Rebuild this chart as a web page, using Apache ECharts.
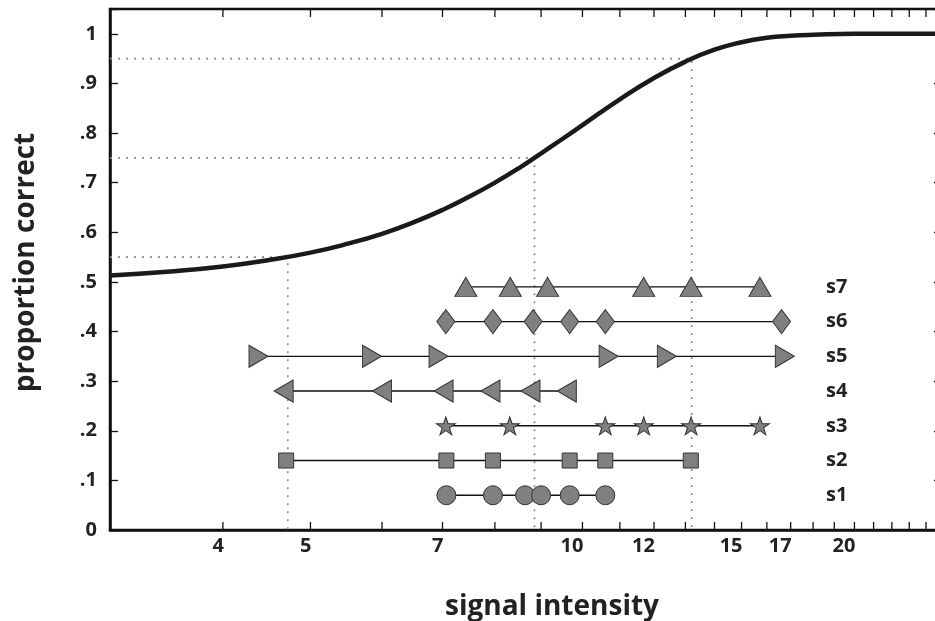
<!DOCTYPE html>
<html>
<head>
<meta charset="utf-8">
<script src="https://cdn.jsdelivr.net/npm/echarts@6/dist/echarts.min.js"></script>
<style>html,body{margin:0;padding:0;background:#fff}#c{width:935px;height:621px}</style>
</head>
<body>
<div id="c"></div>
<script>
// ---- data ----
const curveX = [3, 3.5, 4, 4.5, 5, 5.5, 6, 6.5, 7, 7.5, 8, 8.5, 9, 9.5, 10, 11, 12, 13, 14, 15, 16, 17, 18, 20, 22, 25];
const curveP = [0.513, 0.521, 0.531, 0.544, 0.559, 0.577, 0.597, 0.620, 0.645, 0.672, 0.700, 0.729, 0.759, 0.788, 0.816, 0.868, 0.911, 0.944, 0.968, 0.983, 0.992, 0.996, 0.998, 1.0, 1.0, 1.0];
const thresholdP = [0.55, 0.75, 0.95];
const thresholdX = [4.72, 8.85, 13.21];
const seriesNames = ['s1', 's2', 's3', 's4', 's5', 's6', 's7'];
const rowY = [0.07, 0.14, 0.21, 0.28, 0.35, 0.42, 0.49];
const s1 = [7.07, 7.96, 8.64, 9.00, 9.68, 10.6];
const s2 = [4.70, 7.07, 7.96, 9.68, 10.6, 13.18];
const s3 = [7.06, 8.31, 10.6, 11.69, 13.19, 15.72];
const s4 = [4.67, 6.00, 7.02, 7.91, 8.76, 9.61];
const s5 = [4.38, 5.85, 6.93, 10.69, 12.4, 16.75];
const s6 = [7.06, 7.96, 8.82, 9.68, 10.6, 16.61];
const s7 = [7.43, 8.32, 9.15, 11.69, 13.19, 15.72];
const xTicks = [4, 5, 6, 7, 8, 9, 10, 11, 12, 13, 14, 15, 16, 17, 18, 19, 20, 21, 22, 23, 24];
const xTickLabels = [4, 5, 7, 10, 12, 15, 17, 20];
const xMin = 3, xMax = 25, yMin = 0, yMax = 1.05;
const labelX = 18.6;

// ---- styling ----
const FONT = '"Open Sans", "DejaVu Sans", sans-serif';
const STAR = 'path://M10,0 L12.245,6.91 L19.511,6.91 L13.633,11.18 L15.878,18.09 L10,13.82 L4.122,18.09 L6.367,11.18 L0.489,6.91 L7.755,6.91 Z';
const LEFT_TRI = 'path://M10,0 L0,5 L10,10 Z';
const RIGHT_TRI = 'path://M0,0 L10,5 L0,10 Z';
const symbols = [
  {symbol: 'circle', size: 19},
  {symbol: 'rect', size: 15},
  {symbol: STAR, size: [19, 18]},
  {symbol: LEFT_TRI, size: [19, 22]},
  {symbol: RIGHT_TRI, size: [19, 22]},
  {symbol: 'diamond', size: [18, 24]},
  {symbol: 'triangle', size: [22, 19]}
];
const allRows = [s1, s2, s3, s4, s5, s6, s7];

const series = [];
// dotted threshold lines
thresholdP.forEach((p, i) => {
  series.push({
    type: 'line', silent: true, symbol: 'none', z: 2,
    data: [[xMin, p], [thresholdX[i], p], [thresholdX[i], yMin]],
    lineStyle: {color: '#888', width: 1.6, type: [2, 6]}
  });
});
// psychometric curve
series.push({
  type: 'line', silent: true, symbol: 'none', smooth: true, z: 3,
  data: curveX.map((x, i) => [x, curveP[i]]),
  lineStyle: {color: '#1a1a1a', width: 4.5}
});
// data rows
allRows.forEach((row, i) => {
  series.push({
    type: 'line', silent: true, z: 4, showAllSymbol: true,
    symbol: symbols[i].symbol, symbolSize: symbols[i].size,
    data: row.map(x => [x, rowY[i]]),
    lineStyle: {color: '#111', width: 1.4},
    itemStyle: {color: '#808080', borderColor: '#333', borderWidth: 1}
  });
});
// row labels
series.push({
  type: 'custom', coordinateSystem: 'cartesian2d', clip: false, silent: true, z: 6,
  data: seriesNames.map((n, i) => [labelX, rowY[i]]),
  renderItem(params, api) {
    const p = api.coord([api.value(0), api.value(1)]);
    return {type: 'text', style: {text: seriesNames[params.dataIndex], x: p[0], y: p[1], align: 'left', verticalAlign: 'middle', textAlign: 'left', textVerticalAlign: 'middle', font: 'bold 20px ' + FONT, fill: '#222'}};
  }
});
// x ticks & labels (log scale positions)
series.push({
  type: 'custom', coordinateSystem: 'cartesian2d', clip: false, silent: true, z: 7,
  data: xTicks.map(v => [v, yMin]),
  renderItem(params, api) {
    const v = api.value(0);
    const b = api.coord([v, yMin]);
    const t = api.coord([v, yMax]);
    const children = [
      {type: 'line', shape: {x1: b[0], y1: b[1], x2: b[0], y2: b[1] - 8}, style: {stroke: '#111', lineWidth: 1.3}},
      {type: 'line', shape: {x1: t[0], y1: t[1], x2: t[0], y2: t[1] + 8}, style: {stroke: '#111', lineWidth: 1.3}}
    ];
    if (xTickLabels.indexOf(v) >= 0) {
      children.push({type: 'text', style: {text: String(v), x: b[0] + 1, y: b[1] + 16, align: 'right', verticalAlign: 'middle', textAlign: 'right', textVerticalAlign: 'middle', font: 'bold 20px ' + FONT, fill: '#222'}});
    }
    return {type: 'group', children};
  }
});

const option = {
  animation: false,
  backgroundColor: '#fff',
  grid: {left: 110, top: 9, bottom: 91, right: -7, show: true, borderColor: '#111', borderWidth: 2.5, outerBoundsMode: 'none', containLabel: false},
  xAxis: {
    type: 'log', logBase: 10, min: xMin, max: xMax,
    name: 'signal intensity', nameLocation: 'middle', nameGap: 63,
    nameTextStyle: {fontFamily: FONT, fontWeight: 'bold', fontSize: 28, color: '#222', padding: [0, 0, 0, 52]},
    axisLine: {show: true, lineStyle: {color: '#111', width: 2.5}},
    axisTick: {show: false}, axisLabel: {show: false}, splitLine: {show: false}, minorTick: {show: false}
  },
  yAxis: [{
    type: 'value', min: yMin, max: yMax, interval: 0.1,
    name: 'proportion correct', nameLocation: 'middle', nameGap: 70,
    nameTextStyle: {fontFamily: FONT, fontWeight: 'bold', fontSize: 28, color: '#222', padding: [0, 0, 0, 14]},
    axisLine: {show: true, lineStyle: {color: '#111', width: 2.5}},
    axisTick: {show: true, inside: true, length: 8, lineStyle: {color: '#111', width: 1.3}},
    axisLabel: {
      margin: 13, fontFamily: FONT, fontWeight: 'bold', fontSize: 20, color: '#222',
      formatter: v => v > 1.001 ? '' : (v < 0.001 ? '0' : (v > 0.999 ? '1' : '.' + Math.round(v * 10)))
    },
    splitLine: {show: false}
  }, {
    type: 'value', position: 'right', min: yMin, max: yMax, interval: 0.1,
    axisLine: {show: false},
    axisTick: {show: true, inside: true, length: 8, lineStyle: {color: '#111', width: 1.3}},
    axisLabel: {show: false}, splitLine: {show: false}
  }],
  series
};
const chart = echarts.init(document.getElementById('c'), null, {renderer: 'canvas'});
chart.setOption(option);
</script>
</body>
</html>
